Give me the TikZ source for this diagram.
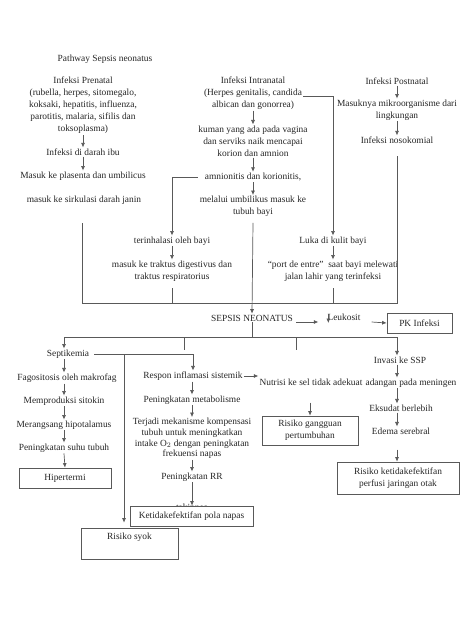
\documentclass[tikz,border=0pt]{standalone}
\usepackage{fontspec}
\setmainfont{Liberation Serif}
\usetikzlibrary{arrows.meta}
\tikzset{
	txt/.style={inner sep=1pt, align=center, font=\fontsize{9.4}{12}\selectfont, text=black!85},
	box/.style={txt, draw=black!65, line width=0.7pt, fill=white, inner sep=2pt},
	ln/.style={draw=black!65, line width=0.7pt},
	arr/.style={ln, -{Latex[length=4.5pt,width=4pt]}}
}
\begin{document}
\begin{tikzpicture}[x=1pt,y=-1pt]
			\useasboundingbox[fill=white] (0,0) rectangle (474,632);
			\node[txt] (title) at (105,59) {Pathway Sepsis neonatus};
			\node[txt] (pre) at (83,105.5) {Infeksi Prenatal\\(rubella, herpes, sitomegalo,\\koksaki, hepatitis, influenza,\\parotitis, malaria, sifilis dan\\toksoplasma)};
			\node[txt] (darah) at (83,152) {Infeksi di darah ibu};
			\node[txt] (plasenta) at (83,176) {Masuk ke plasenta dan umbilicus};
			\node[txt] (sirkulasi) at (84,200) {masuk ke sirkulasi darah janin};
			\node[txt] (intra) at (253,93) {Infeksi Intranatal\\(Herpes genitalis, candida\\albican dan gonorrea)};
			\node[txt] (kuman) at (253,141) {kuman yang ada pada vagina\\dan serviks naik mencapai\\korion dan amnion};
			\node[txt] (amnion) at (253,177) {amnionitis dan korionitis,};
			\node[txt] (umbil) at (253,206.5) {melalui umbilikus masuk ke\\tubuh bayi};
			\node[txt] (post) at (397,81) {Infeksi Postnatal};
			\node[txt] (masuknya) at (397,110) {Masuknya mikroorganisme dari\\lingkungan};
			\node[txt] (noso) at (397,140) {Infeksi nosokomial};
			\node[txt] (inhal) at (172,241) {terinhalasi oleh bayi};
			\node[txt] (traktus) at (172,271) {masuk ke traktus digestivus dan\\traktus respiratorius};
			\node[txt] (luka) at (333,241) {Luka di kulit bayi};
			\node[txt] (port) at (333,271) {“port de entre”\ \ saat bayi melewati\\jalan lahir yang terinfeksi};
			\node[txt] (sepsis) at (252,318) {SEPSIS NEONATUS};
			\node[txt] (leuko) at (344,317) {Leukosit};
			\node[box, minimum width=65pt, minimum height=20pt] (pk) at (419.5,323) {PK Infeksi};
			\node[txt] (septi) at (68,354) {Septikemia};
			\node[txt] (fago) at (67,378) {Fagositosis oleh makrofag};
			\node[txt] (sitokin) at (64,401) {Memproduksi sitokin};
			\node[txt] (hipo) at (64,425) {Merangsang hipotalamus};
			\node[txt] (suhu) at (64,448) {Peningkatan suhu tubuh};
			\node[box, minimum width=92pt, minimum height=20pt] (hiper) at (65,478) {Hipertermi};
			\node[txt] (respon) at (193,376) {Respon inflamasi sistemik};
			\node[txt] (metab) at (192,400) {Peningkatan metabolisme};
			\node[txt, font=\fontsize{9.4}{10.6}\selectfont] (mekan) at (192,438.5) {Terjadi mekanisme kompensasi\\tubuh untuk meningkatkan\\intake O$_2$ dengan peningkatan\\frekuensi napas};
			\node[txt] (rr) at (192,477) {Peningkatan RR};
			\node[txt] (takip) at (192,508) {takipnea};
			\node[box, minimum width=123pt, minimum height=20pt] (pola) at (191.5,516) {Ketidakefektifan pola napas};
			\node[box, minimum width=97pt, text height=9pt, text depth=18pt] (syok) at (129.5,543.5) {Risiko syok};
			\node[txt] (nutrisi) at (311,382) {Nutrisi ke sel tidak adekuat};
			\node[box, minimum width=96pt, minimum height=29pt] (ganggu) at (310,430.5) {Risiko gangguan\\pertumbuhan};
			\node[txt] (ssp) at (400,360) {Invasi ke SSP};
			\node[txt] (mening) at (411,383) {adangan pada meningen};
			\node[txt] (eksudat) at (401,408) {Eksudat berlebih};
			\node[txt] (edema) at (401,431) {Edema serebral};
			\node[box, minimum width=122pt, minimum height=32pt] (otak) at (398,478) {Risiko ketidakefektifan\\perfusi jaringan otak};
			\coordinate (barL) at (82,303);
			\coordinate (barR) at (397,303);
			\coordinate (bawahL) at (64,337);
			\coordinate (bawahR) at (397,337);
			\coordinate (cabang) at (124,355);
			\draw[arr] (pre.south) -- (darah.north);
			\draw[arr] (darah.south) -- (plasenta.north);
			\draw[arr] (intra.south) -- (kuman.north);
			\draw[arr] (kuman.south) -- (amnion.north);
			\draw[arr] (amnion.south) -- (umbil.north);
			\draw[arr] ([yshift=-3pt]intra.east) -| (luka.north);
			\draw[arr] ([xshift=-6pt]amnion.west) -| (inhal.north);
			\draw[arr] (inhal.south) -- (inhal.south |- traktus.north);
			\draw[arr] (luka.south) -- (port.north -| luka.south);
			\draw[arr] (post.south) -- (masuknya.north);
			\draw[arr] (masuknya.south) -- (noso.north);
			\draw[ln] ([yshift=-18pt]sirkulasi.south -| barL) -- (barL) -- (barR) -- ([yshift=-11pt]noso.south);
			\draw[ln] ([yshift=-6pt]traktus.south) -- (traktus.south |- barL);
			\draw[ln] ([yshift=-6pt]port.south) -- (port.south |- barL);
			\draw[arr] ([yshift=-5pt]umbil.south) -- (sepsis.north);
			\draw[arr] ([xshift=2pt,yshift=-4pt]sepsis.east) -- ([xshift=-8pt,yshift=-5pt]leuko.west);
			\draw[arr] ([xshift=2pt,yshift=3pt]leuko.west) -- ([xshift=2pt,yshift=-6pt]leuko.west);
			\draw[arr] ([xshift=10pt,yshift=-5pt]leuko.east) -- (pk.west);
			\draw[ln] (sepsis.south) -- (sepsis.south |- bawahL);
			\draw[arr] (bawahL) -- (bawahR) -- (ssp.north -| bawahR);
			\draw[arr] (bawahL) -- (septi.north -| bawahL);
			\draw[ln] (184,337) -- (184,350);
			\draw[ln] (296,337) -- (296,350);
			\draw[arr] ([xshift=4pt]septi.east) -| (respon.north);
			\draw[arr] (cabang) -- ([yshift=5pt]cabang |- syok.north);
			\draw[arr] (septi.south -| bawahL) -- (fago.north -| bawahL);
			\draw[arr] (fago.south -| sitokin) -- (sitokin.north);
			\draw[arr] (sitokin.south) -- (hipo.north);
			\draw[arr] (hipo.south) -- (suhu.north);
			\draw[arr] (suhu.south) -- (hiper.north);
			\draw[arr] (respon.south -| metab) -- (metab.north);
			\draw[arr] (metab.south) -- (mekan.north);
			\draw[arr] (mekan.south) -- (rr.north);
			\draw[arr] (rr.south) -- (pola.north -| rr.south);
			\draw[arr] (respon.east) -- (respon.east -| nutrisi.west);
			\draw[arr] ([yshift=-16pt]nutrisi.south -| ganggu.north) -- (ganggu.north);
			\draw[arr] (ssp.south -| bawahR) -- (mening.north -| bawahR);
			\draw[arr] (mening.south -| bawahR) -- (eksudat.north -| bawahR);
			\draw[arr] (eksudat.south -| bawahR) -- (edema.north -| bawahR);
			\draw[arr] ([yshift=-14pt]edema.south -| bawahR) -- (otak.north -| bawahR);
		\end{tikzpicture}
\end{document}
